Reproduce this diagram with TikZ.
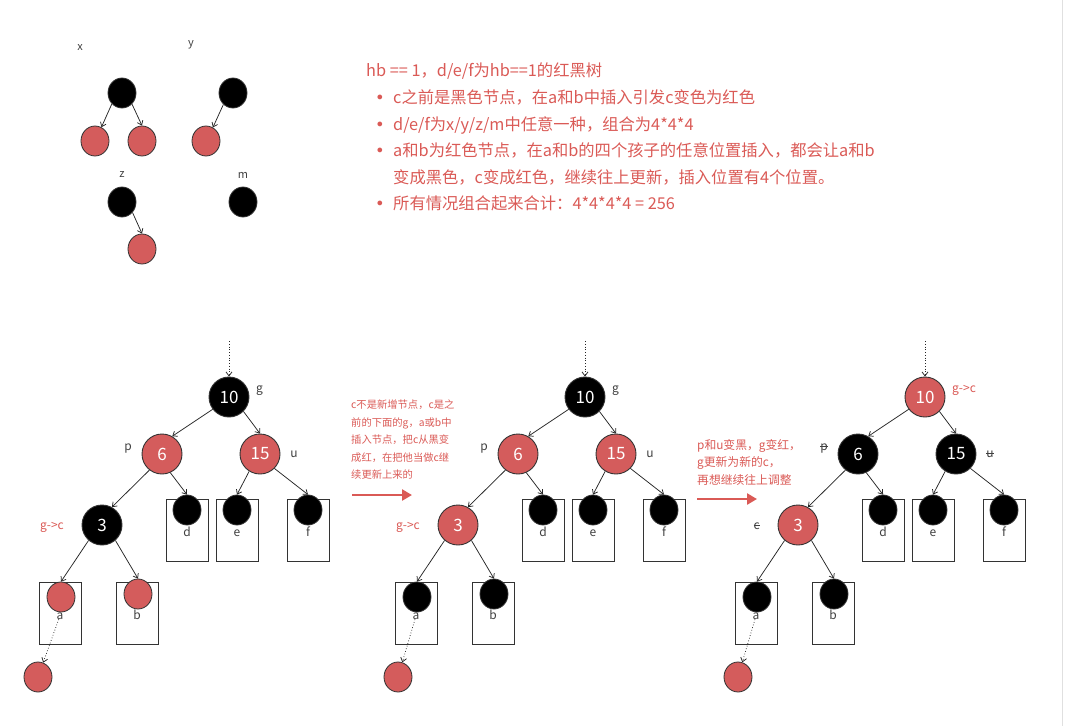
\documentclass[tikz,border=0pt]{standalone}
\usepackage{fontspec}
\setmainfont{Noto Sans CJK SC}
\newfontfamily\bulfont{DejaVu Sans}
\usetikzlibrary{arrows.meta, shapes.geometric, positioning}

\definecolor{nodered}{HTML}{D45C5C}
\definecolor{txtred}{HTML}{DA5A56}
\definecolor{rim}{HTML}{333333}

\tikzset{
  big/.style={circle, draw=rim, line width=0.9pt, minimum size=40pt, inner sep=0pt,
    text=white, font=\fontsize{17}{17}\selectfont},
  blk/.style={big, fill=black},
  rd/.style={big, fill=nodered},
  leaf/.style={ellipse, draw=rim, line width=0.8pt, minimum width=28pt, minimum height=30pt, inner sep=0pt},
  sblk/.style={leaf, fill=black},
  srd/.style={leaf, fill=nodered},
  leafbox/.style={draw=rim, line width=0.8pt, minimum width=42pt, minimum height=62pt, inner sep=0pt},
  lbl/.style={inner sep=0pt, text=black!75, font=\fontsize{12}{12}\selectfont},
  link/.style={->, line width=0.75pt, draw=black!85},
  hint/.style={text=txtred, inner sep=0pt, align=left, font=\fontsize{10.3}{17.5}\selectfont},
  bigarrow/.style={-{Triangle[length=10pt,width=11pt]}, line width=2.5pt, draw=txtred},
}
\newcommand{\bul}{\hspace*{9pt}\makebox[18pt][l]{\bulfont •}}
\newsavebox{\strkbox}
\newcommand{\strk}[1]{\sbox{\strkbox}{#1}\rlap{\rule[0.28em]{\wd\strkbox}{0.6pt}}\usebox{\strkbox}}

\begin{document}
\begin{tikzpicture}[x=1pt, y=-1pt, >={Straight Barb[length=4pt,width=6pt]}]
  \useasboundingbox (0,0) rectangle (1071,726);
  \draw[black!12] (1062,0) -- (1062,726);

  % the four possible subtrees with hb == 1
  \node[lbl, font=\fontsize{11}{11}\selectfont] (xlab) at (80,48) {x};
  \node[lbl, font=\fontsize{11}{11}\selectfont] (ylab) at (191,45) {y};
  \node[lbl, font=\fontsize{11}{11}\selectfont] (zlab) at (122,175) {z};
  \node[lbl, font=\fontsize{11}{11}\selectfont] (mlab) at (243,175) {m};

  \node[sblk] (xr) at (122,93) {};
  \node[srd] (xa) at (95,141) {};
  \node[srd] (xb) at (142,141) {};
  \node[sblk] (yr) at (233,93) {};
  \node[srd] (ya) at (206,141) {};
  \node[sblk] (zr) at (122,202) {};
  \node[srd] (zb) at (142,249) {};
  \node[sblk] (mr) at (243,202) {};

  \draw[link] (xr.227) -- (xa.65);
  \draw[link] (xr.312) -- (xb.north);
  \draw[link] (yr.230) -- (ya.63);
  \draw[link] (zr.315) -- (zb.north);

  % notes
  \node[text=txtred, inner sep=0pt, align=left, anchor=north west,
        font=\fontsize{16.3}{26.6}\selectfont] (notes) at (366,63) {%
    hb == 1，d/e/f为hb==1的红黑树\\
    \bul c之前是黑色节点，在a和b中插入引发c变色为红色\\
    \bul d/e/f为x/y/z/m中任意一种，组合为4*4*4\\
    \bul a和b为红色节点，在a和b的四个孩子的任意位置插入，都会让a和b\\
    \hspace*{27pt}变成黑色，c变成红色，继续往上更新，插入位置有4个位置。\\
    \bul 所有情况组合起来合计：4*4*4*4 = 256};

  % three steps of the same tree
  \foreach \tr/\dx/\nx/\gst/\pst/\cst/\lst/\glab/\plab/\ulab/\clab in {
      1/0/38/blk/rd/blk/srd/g/p/u/{\color{txtred}g->c},
      2/356/42/blk/rd/rd/sblk/g/p/u/{\color{txtred}g->c},
      3/696/42/rd/blk/rd/sblk/{\color{txtred}g->c}/\strk{p}/\strk{u}/\strk{c}} {
    \begin{scope}[xshift=\dx]
      \coordinate (in\tr) at (229,341);
      \node[\gst] (g\tr) at (229,397) {10};
      \node[\pst] (p\tr) at (162,454) {6};
      \node[\pst] (u\tr) at (260,454) {15};
      \node[\cst] (c\tr) at (102,525) {3};

      \node[lbl, anchor=base west] (gl\tr) at (256,392) {\glab};
      \node[lbl, anchor=base] (pl\tr) at (128,450) {\plab};
      \node[lbl, anchor=base] (ul\tr) at (294,457) {\ulab};
      \node[lbl, anchor=base east] (cl\tr) at (64,529) {\clab};

      \foreach \lf/\lx/\by in {d/187/530, e/237/530, f/308/530, a/60/613, b/137/613} {
        \node[leafbox] (box\lf\tr) at (\lx,\by) {};
        \node[lbl, anchor=base] (l\lf\tr) at (\lx,\by+6) {\lf};
      }
      \node[sblk] (d\tr) at (187,510) {};
      \node[sblk] (e\tr) at (237,510) {};
      \node[sblk] (f\tr) at (308,510) {};
      \node[\lst] (a\tr) at (61,597) {};
      \node[\lst] (b\tr) at (138,594) {};
      \node[srd] (n\tr) at (\nx,677) {};

      \draw[link, dotted] (in\tr) -- (g\tr);
      \draw[link] (g\tr.217) -- (p\tr.60);
      \draw[link] (g\tr.315) -- (u\tr.north);
      \draw[link] (p\tr.232) -- (c\tr.61);
      \draw[link] (p\tr.294) -- (d\tr.north);
      \draw[link] (u\tr.238) -- (e\tr.north);
      \draw[link] (u\tr.315) -- (f\tr.north);
      \draw[link] (c\tr.229) -- (a\tr.north);
      \draw[link] (c\tr.311) -- (b\tr.north);
      \draw[link, dotted] (la\tr) -- (n\tr);
    \end{scope}
  }

  % step hints
  \node[hint, anchor=north west] (hint1) at (351,400)
    {c不是新增节点，c是之\\前的下面的g，a或b中\\插入节点，把c从黑变\\成红，在把他当做c继\\续更新上来的};
  \coordinate (h1s) at (352,495);
  \coordinate (h1e) at (412,495);
  \draw[bigarrow] (h1s) -- (h1e);

  \node[hint, anchor=north west, font=\fontsize{11.8}{17.5}\selectfont] (hint2) at (697,439)
    {p和u变黑，g变红，\\g更新为新的c，\\再想继续往上调整};
  \coordinate (h2s) at (697,499);
  \coordinate (h2e) at (757,499);
  \draw[bigarrow] (h2s) -- (h2e);
\end{tikzpicture}
\end{document}
